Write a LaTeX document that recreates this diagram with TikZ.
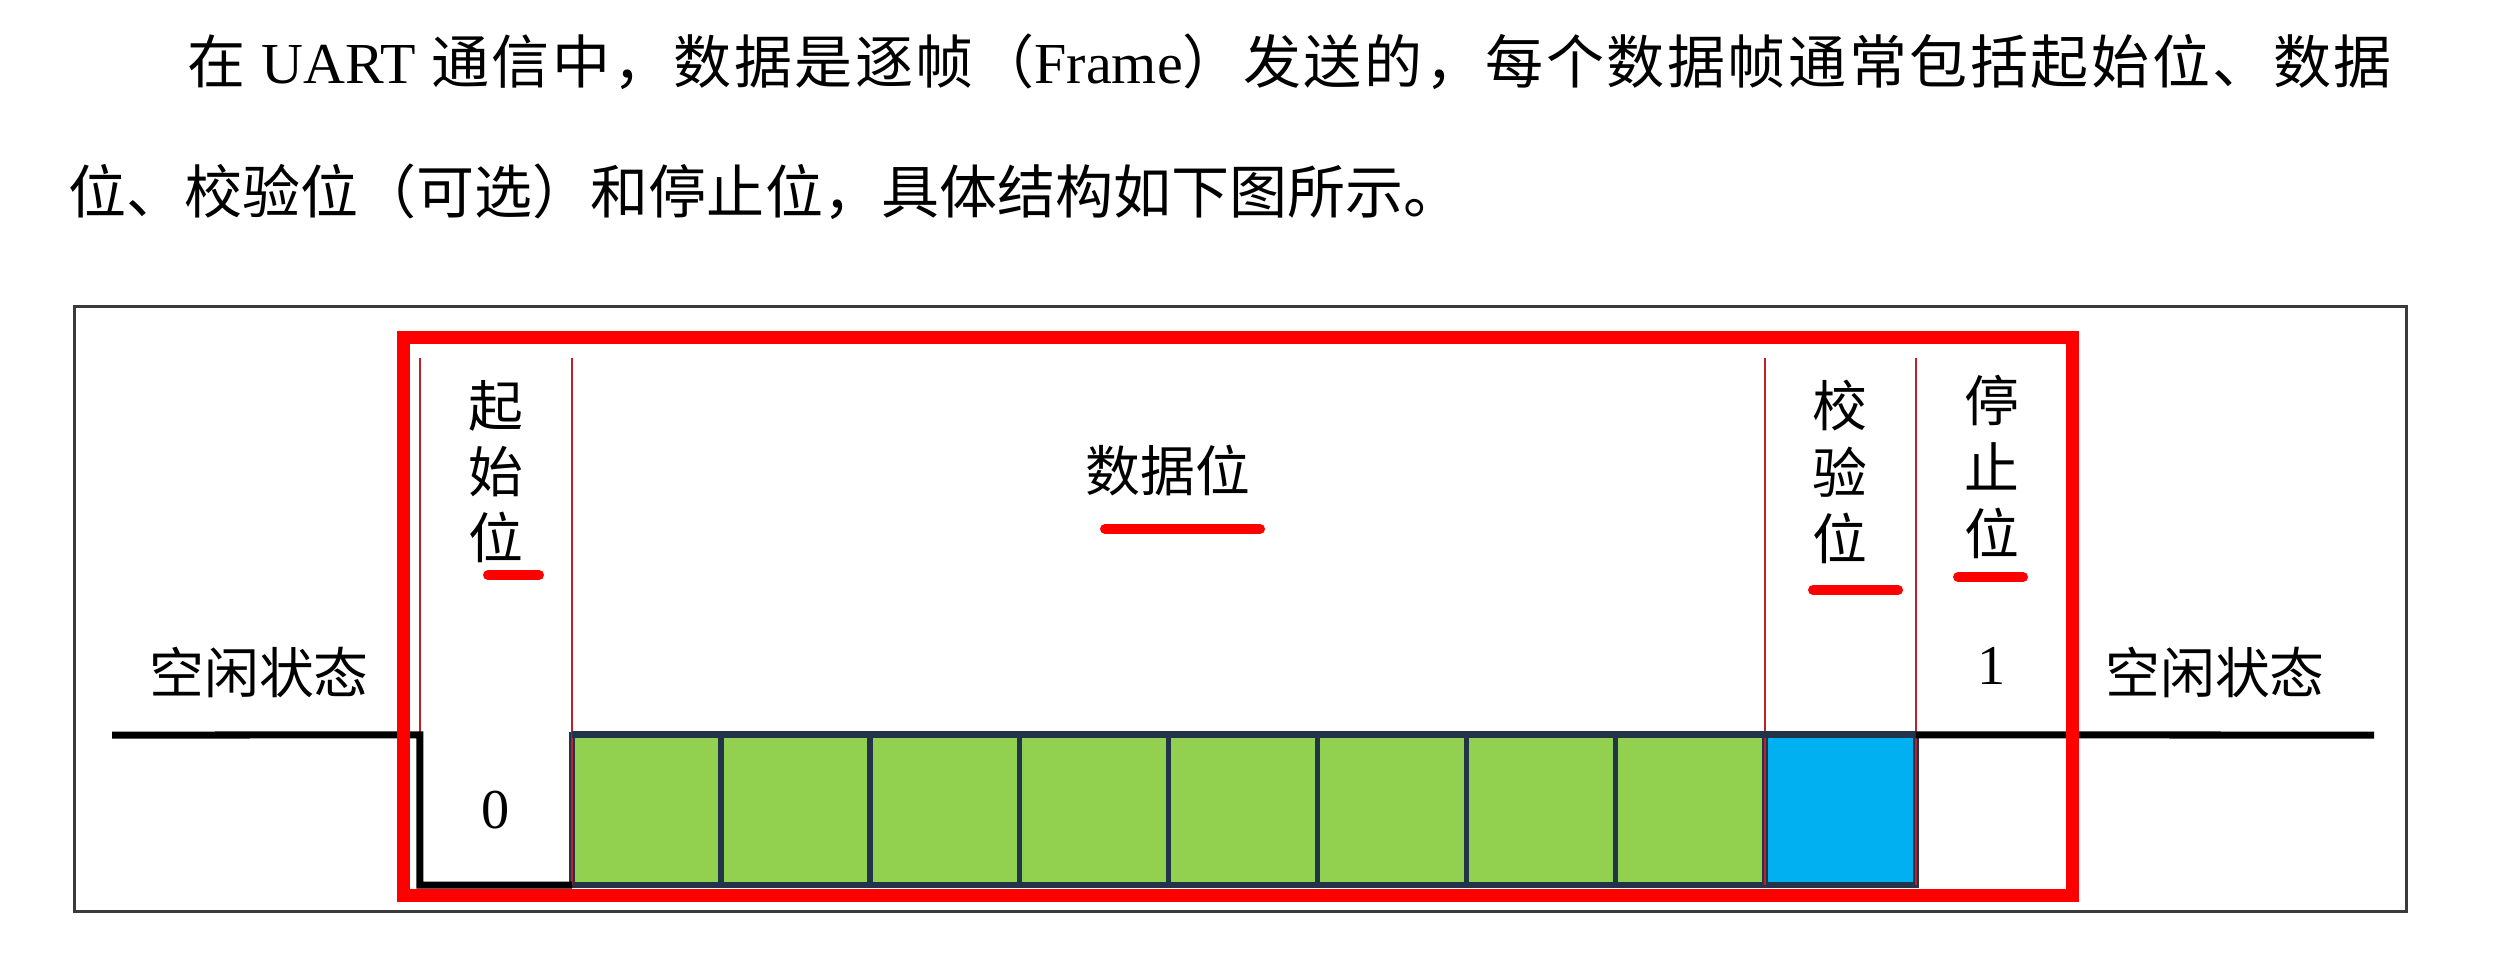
\documentclass[tikz,border=0pt]{standalone}
\usepackage{fontspec}
\setmainfont{Liberation Serif}
\newfontfamily\cjk{Noto Sans CJK SC}
\newfontfamily\cjkwide[LetterSpace=4.4]{Noto Sans CJK SC}
\usetikzlibrary{positioning}
\definecolor{DataGreen}{HTML}{92D050}
\definecolor{ParityBlue}{HTML}{00B0F0}
\definecolor{CellNavy}{HTML}{22344A}
\definecolor{FrameRed}{HTML}{FF0000}
\definecolor{SepRed}{HTML}{C0202A}
\definecolor{BoxGray}{HTML}{3A3A3A}

\begin{document}
\begin{tikzpicture}[x=0.01cm, y=-0.01cm,
  textline/.style={inner sep=0pt, font={\fontsize{16.5pt}{20pt}\cjk}},
  fieldname/.style={inner sep=0pt, align=center, font={\fontsize{15.6pt}{18.8pt}\cjk}},
  digit/.style={inner sep=0pt, font={\fontsize{16pt}{18pt}\selectfont}},
  bit/.style={minimum width=1.49cm, minimum height=1.5cm, inner sep=0pt,
              outer sep=0pt, font={\fontsize{16pt}{18pt}\selectfont}},
  databit/.style={bit, fill=DataGreen, draw=CellNavy, line width=0.055cm},
  paritybit/.style={bit, minimum width=1.51cm, fill=ParityBlue, draw=CellNavy, line width=0.065cm},
  sepline/.style={SepRed, line width=0.015cm},
  wave/.style={black, line width=0.07cm},
  framebox/.style={FrameRed, line width=0.13cm},
  hilite/.style={FrameRed, line width=0.1cm, line cap=round}]
  \path[use as bounding box, fill=white] (0,0) rectangle (2516,954);

  \node[textline, anchor=base west, font={\fontsize{16.5pt}{20pt}\cjkwide}] (line1) at (187,83)
    {在 {\rmfamily UART} 通信中，数据是逐帧（{\rmfamily Frame}）发送的，每个数据帧通常包括起始位、数据};
  \node[textline, anchor=base west] (line2) at (68,213) {位、校验位（可选）和停止位，具体结构如下图所示。};

  \draw[BoxGray, line width=0.03cm] (74,306) rectangle (2406,911);

  \node[fieldname] (idleL) at (259,672) {空闲状态};
  \node[fieldname] (idleR) at (2215,672) {空闲状态};
  \node[fieldname] (startname) at (496,472) {起\\始\\位};
  \node[fieldname] (dataname) at (1168,471) {数据位};
  \node[fieldname] (parname) at (1840,472) {校\\验\\位};
  \node[fieldname] (stopname) at (1992,467) {停\\止\\位};
  \node[digit] (one) at (1992,666) {1};

  \node[bit, minimum width=1.52cm] (start) at (496,810) {0};
  \node[databit, right=0pt of start] (d1) {};
  \foreach \i [count=\j from 2] in {1,...,7}
    \node[databit, right=0pt of d\i] (d\j) {};
  \node[paritybit, right=0pt of d8] (par) {};

  \foreach \p in {start.south west, start.south east, par.south west, par.south east}
    \draw[sepline] (\p) -- (\p |- 0,358);

  \coordinate (lineL) at (112,735);
  \coordinate (lineR) at (2374,735);
  \draw[wave] (lineL) -- (start.north west) -- (start.south west) -- (start.south east);
  \draw[wave, CellNavy] (start.north east) -- (par.north east);
  \draw[wave] (par.north east) -- (lineR);

  \draw[framebox] (403,337) rectangle (2072,895);

  \draw[hilite] (488,575) -- (539,575);
  \draw[hilite] (1105,529) -- (1260,529);
  \draw[hilite] (1813,590) -- (1898,590);
  \draw[hilite] (1958,577) -- (2023,577);
\end{tikzpicture}
\end{document}
